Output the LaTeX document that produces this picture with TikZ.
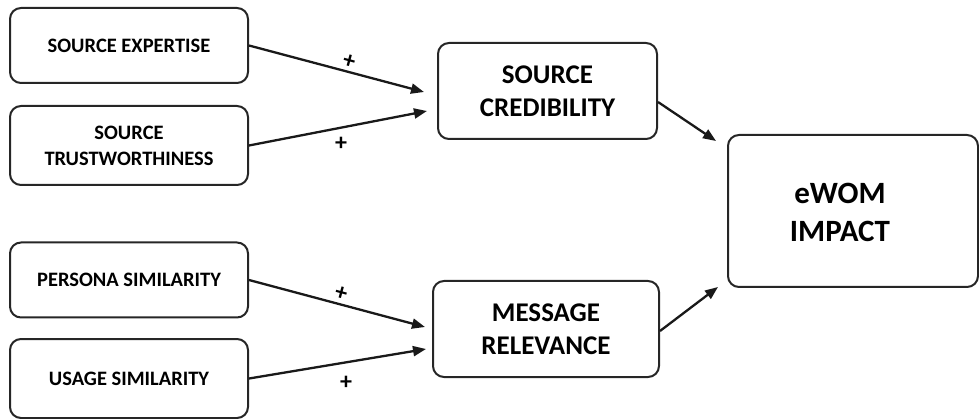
\documentclass[tikz,border=0pt]{standalone}
\usepackage{fontspec}
\setmainfont{Carlito}
\usetikzlibrary{arrows.meta}
\begin{document}
\begin{tikzpicture}[x=1pt,y=-1pt,
  box/.style={draw=black!85,line width=2pt,rounded corners=11pt,align=center,inner sep=0pt,font=\bfseries},
  smallbox/.style={box,minimum width=238pt,minimum height=75pt,font=\fontsize{20.5}{26}\selectfont\bfseries},
  midbox/.style={box,font=\fontsize{27}{32.5}\selectfont\bfseries},
  conn/.style={line width=2.3pt,draw=black!90,-{Triangle[length=13pt,width=10pt]}},
  plus/.style={font=\fontsize{24}{24}\selectfont\bfseries,inner sep=0pt}]
\useasboundingbox (0,0) rectangle (979,419);
\node[smallbox] (se) at (129,45.5) {SOURCE EXPERTISE};
\node[smallbox,minimum height=79pt] (st) at (129,145.5) {SOURCE\\TRUSTWORTHINESS};
\node[smallbox] (ps) at (129,280) {PERSONA SIMILARITY};
\node[smallbox,minimum height=79pt] (us) at (129,378.5) {USAGE SIMILARITY};
\node[midbox,minimum width=219pt,minimum height=96pt] (sc) at (547.5,91) {SOURCE\\CREDIBILITY};
\node[midbox,minimum width=226pt,minimum height=96pt] (mr) at (546,329) {MESSAGE\\RELEVANCE};
\node[box,minimum width=250pt,minimum height=152pt] (ew) at (853,211) {};
\node[align=center,inner sep=0pt,font=\fontsize{31}{38}\selectfont\bfseries] (ewt) at (840,212) {eWOM\\IMPACT};
\coordinate (t1) at (424,92);
\coordinate (t2) at (427,111);
\coordinate (t3) at (425,327);
\coordinate (t4) at (426,349);
\coordinate (e1) at (716,141);
\coordinate (e2) at (718,287);
\draw[conn] (se.east) -- (t1);
\draw[conn] (st.east) -- (t2);
\draw[conn] (ps.east) -- (t3);
\draw[conn] (us.east) -- (t4);
\draw[conn] (sc.east|-0,102) -- (e1);
\draw[conn] (mr.east|-0,331) -- (e2);
\node[plus,rotate=-15] (p1) at (349,62) {+};
\node[plus] (p2) at (341,144) {+};
\node[plus,rotate=-15] (p3) at (341,294) {+};
\node[plus] (p4) at (346,383) {+};
\end{tikzpicture}
\end{document}
